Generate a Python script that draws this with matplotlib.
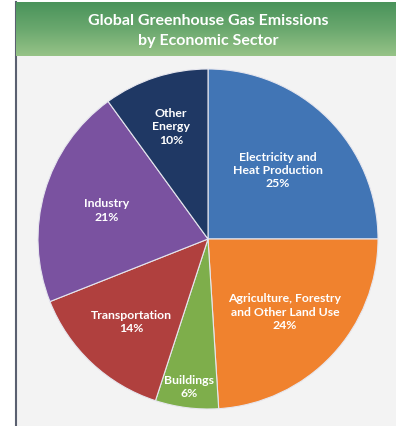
import numpy as np
import matplotlib.pyplot as plt
from matplotlib.colors import LinearSegmentedColormap

sectors = ['Electricity and\nHeat Production', 'Agriculture, Forestry\nand Other Land Use',
           'Buildings', 'Transportation', 'Industry', 'Other\nEnergy']
shares = [25, 24, 6, 14, 21, 10]
colors = ['#4175b5', '#f0822e', '#7eae4b', '#b0403e', '#7a52a0', '#1f3864']
label_r = [0.58, 0.62, 0.87, 0.66, 0.62, 0.70]

plt.rcParams['font.family'] = ['Lato', 'DejaVu Sans']

W, H = 396, 427
fig = plt.figure(figsize=(W / 100, H / 100), dpi=100)
fig.patch.set_facecolor('white')

# grey panel with dark left rule
bg = fig.add_axes([16 / W, 0, 1 - 16 / W, 1 - 3 / H])
bg.set_facecolor('#f3f3f3')
bg.set_xticks([])
bg.set_yticks([])
for s in ['top', 'right', 'bottom']:
    bg.spines[s].set_visible(False)
bg.spines['left'].set_color('#5a6070')
bg.spines['left'].set_linewidth(1.5)

# green title banner
ban = fig.add_axes([16 / W, (H - 57) / H, 1 - 16 / W, 54 / H])
grad = np.linspace(0, 1, 100).reshape(-1, 1)
cmap = LinearSegmentedColormap.from_list('g', ['#4a935b', '#6aa86e', '#96c387'])
ban.imshow(grad, aspect='auto', cmap=cmap, extent=[0, 1, 0, 1], origin='upper')
ban.axis('off')
ban.text(0.505, 0.48, 'Global Greenhouse Gas Emissions\nby Economic Sector', color='white',
         ha='center', va='center', fontsize=11.5, fontweight='bold', linespacing=1.6,
         transform=ban.transAxes)

# pie
ax = fig.add_axes([38 / W, 17 / H, 340 / W, 340 / H])
wedges, _ = ax.pie(shares, colors=colors, startangle=90, counterclock=False,
                   wedgeprops=dict(edgecolor='#e6e6ee', linewidth=0.8))
ax.set_xlim(-1, 1)
ax.set_ylim(-1, 1)
ax.set_aspect('equal')

for w, name, val, r in zip(wedges, sectors, shares, label_r):
    ang = np.deg2rad((w.theta1 + w.theta2) / 2)
    ax.text(r * np.cos(ang), r * np.sin(ang), f'{name}\n{val}%', color='white',
            ha='center', va='center', fontsize=8.8, fontweight='bold', linespacing=1.25)

fig.savefig('out.png', dpi=100)
